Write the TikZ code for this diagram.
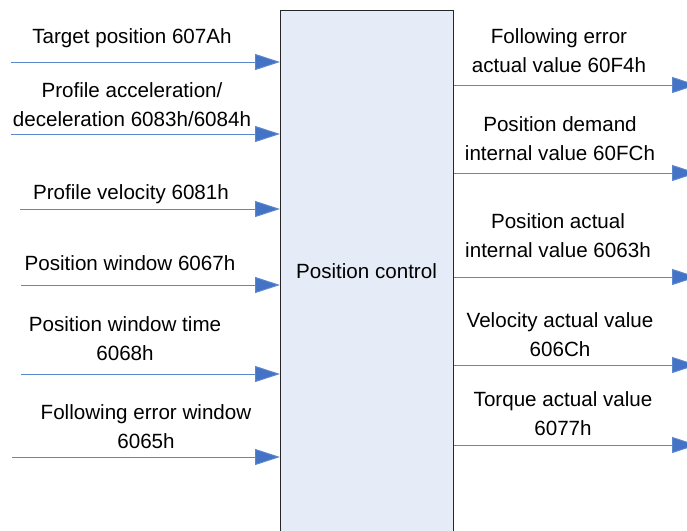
\documentclass[tikz,border=0pt]{standalone}
\usepackage{fontspec}
\setmainfont{Liberation Sans}
\usetikzlibrary{arrows.meta}
\definecolor{arrowblue}{HTML}{4472C4}
\definecolor{linkblue}{HTML}{5B87CC}
\definecolor{boxfill}{HTML}{E6ECF7}
\begin{document}
\begin{tikzpicture}[x=1pt,y=-1pt,
  lbl/.style={font=\fontsize{20.6}{29}\selectfont, align=center, anchor=base, inner sep=0pt},
  sig/.style={draw=linkblue, line width=1pt, -{Triangle[length=25pt,width=16pt,fill=arrowblue]}}]
\useasboundingbox (0,0) rectangle (687,530);
\node[draw=black!85, line width=1pt, fill=boxfill, minimum width=173pt, minimum height=540pt, anchor=north west, inner sep=0pt] (pc) at (280,10) {};
\node[lbl] (pcl) at (366.5,278) {Position control};
% inputs
\coordinate (i1) at (11,62);
\coordinate (i2) at (11,134);
\coordinate (i3) at (20,209);
\coordinate (i4) at (21,285);
\coordinate (i5) at (21,374);
\coordinate (i6) at (12,457);
\foreach \n in {1,...,6} {\draw[sig] (i\n) -- (i\n -| pc.west);}
% outputs
\coordinate (o1) at (697,85);
\coordinate (o2) at (697,173);
\coordinate (o3) at (697,277);
\coordinate (o4) at (697,365);
\coordinate (o5) at (697,445);
\foreach \n in {1,...,5} {\draw[sig] (o\n -| pc.east) -- (o\n);}
% input labels (two-line labels: y is the last line's baseline)
\node[lbl] (l1) at (132,43) {Target position 607Ah};
\node[lbl] (l2) at (132,126) {Profile acceleration/\\deceleration 6083h/6084h};
\node[lbl] (l3) at (131,199) {Profile velocity 6081h};
\node[lbl] (l4) at (130,270) {Position window 6067h};
\node[lbl] (l5) at (125,360) {Position window time\\6068h};
\node[lbl] (l6) at (146,448) {Following error window\\6065h};
% output labels
\node[lbl] (r1) at (559,72) {Following error\\actual value 60F4h};
\node[lbl] (r2) at (560,160) {Position demand\\internal value 60FCh};
\node[lbl] (r3) at (558,257) {Position actual\\internal value 6063h};
\node[lbl] (r4) at (560,356) {Velocity actual value\\606Ch};
\node[lbl] (r5) at (563,435) {Torque actual value\\6077h};
\end{tikzpicture}
\end{document}
